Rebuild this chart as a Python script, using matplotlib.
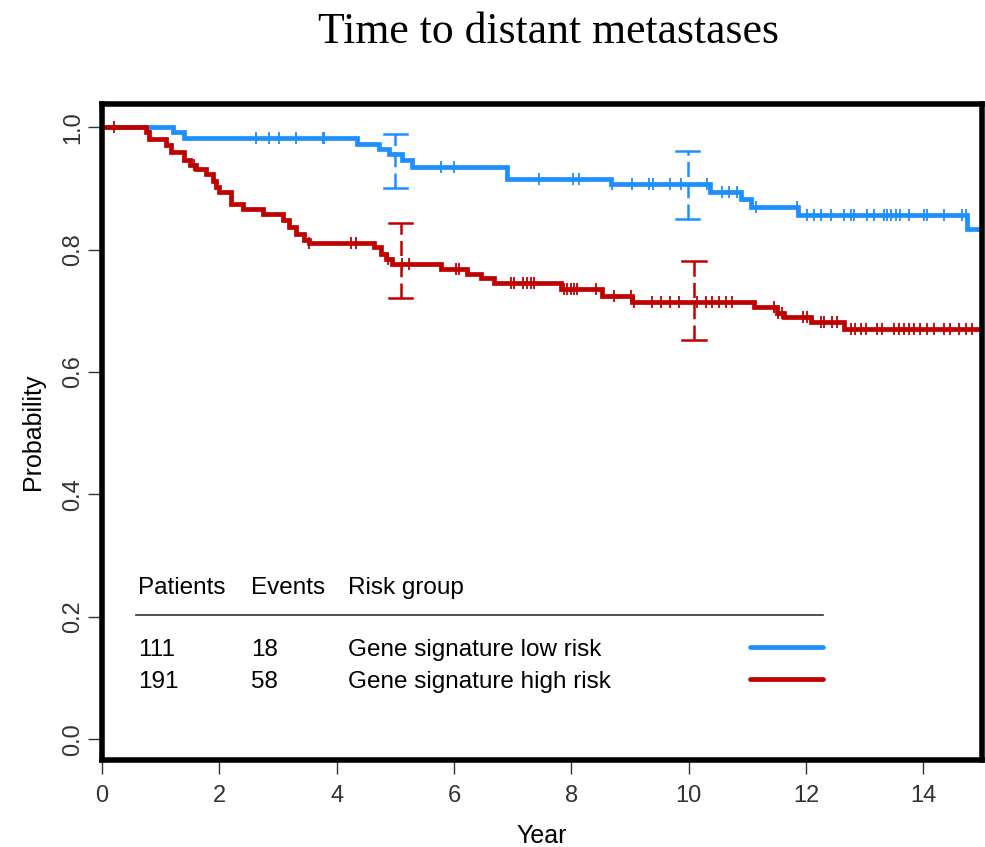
import numpy as np
import matplotlib
matplotlib.use("Agg")
import matplotlib.pyplot as plt

plt.rcParams['font.family'] = ['Liberation Sans', 'DejaVu Sans']

# Kaplan-Meier steps (time of step, survival after step)
low_t = [0.0, 1.21, 1.40, 4.35, 4.72, 4.89, 5.12, 5.29, 6.91, 8.67, 10.37, 10.89, 11.06, 11.87, 14.75]
low_s = [1.0, 0.992, 0.982, 0.973, 0.965, 0.957, 0.946, 0.935, 0.916, 0.907, 0.894, 0.882, 0.870, 0.856, 0.834]

high_t = [0.0, 0.75, 0.80, 1.09, 1.18, 1.40, 1.50, 1.60, 1.77, 1.89, 1.95, 2.0, 2.2, 2.4, 2.74,
          3.08, 3.19, 3.30, 3.45, 3.53, 4.64, 4.75, 4.84, 4.95, 5.78, 6.23, 6.46, 6.68,
          7.82, 8.53, 9.04, 11.11, 11.51, 11.62, 12.08, 12.64]
high_s = [1.0, 0.992, 0.981, 0.971, 0.960, 0.946, 0.938, 0.932, 0.924, 0.913, 0.902, 0.894, 0.875, 0.867, 0.859,
          0.848, 0.837, 0.826, 0.815, 0.811, 0.804, 0.793, 0.785, 0.777, 0.769, 0.761, 0.753, 0.745,
          0.736, 0.725, 0.715, 0.706, 0.696, 0.690, 0.682, 0.671]

# censoring times
low_cens = [2.62, 2.85, 3.01, 3.30, 3.76, 3.79, 5.78, 6.0, 7.45, 8.02, 8.13, 8.70, 9.04, 9.32, 9.40,
            9.69, 9.87, 10.32, 10.57, 10.69, 10.83, 11.14, 11.85, 12.02, 12.14, 12.25, 12.42,
            12.65, 12.76, 12.82, 13.04, 13.16, 13.33, 13.38, 13.44, 13.53, 13.61, 13.75,
            14.01, 14.06, 14.35, 14.66, 14.72]
high_cens = [0.21, 1.57, 3.53, 4.24, 4.33, 4.87, 5.12, 5.24, 6.03, 6.09, 6.97, 7.02, 7.17, 7.25, 7.31, 7.36,
             7.87, 7.93, 7.99, 8.04, 8.10, 8.42, 8.73, 9.01, 9.07, 9.38, 9.52, 9.69, 9.83,
             10.15, 10.29, 10.40, 10.52, 10.63, 10.74, 11.45, 11.53, 11.59, 11.94, 12.02,
             12.25, 12.31, 12.45, 12.53, 12.76, 12.84, 12.93, 13.02, 13.21, 13.30,
             13.50, 13.59, 13.67, 13.76, 13.84, 13.95, 14.06, 14.18, 14.35, 14.46, 14.61, 14.72, 14.83]

# confidence intervals at 5 and 10 years
low_ci_x = [5.0, 9.98]
low_ci_lo = [0.900, 0.850]
low_ci_hi = [0.989, 0.962]
high_ci_x = [5.09, 10.09]
high_ci_lo = [0.721, 0.652]
high_ci_hi = [0.843, 0.782]

patients = ["111", "191"]
events = ["18", "58"]
groups = ["Gene signature low risk", "Gene signature high risk"]

blue = "#1E8FFF"
red = "#C00000"


def surv_at(t, times, surv):
    idx = np.searchsorted(times, t, side='right') - 1
    return np.asarray(surv)[idx]


fig = plt.figure(figsize=(9.85, 8.47), dpi=100)
ax = fig.add_axes([0.1035, 0.1027, 0.8935, 0.7745])

for times, surv, cens, col in [(low_t, low_s, low_cens, blue), (high_t, high_s, high_cens, red)]:
    ax.step(times + [15.5], surv + [surv[-1]], where='post', color=col, lw=3.4, solid_joinstyle='miter')
    ax.plot(cens, surv_at(cens, times, surv), ls='none', marker='|', ms=9, mew=1.3, color=col)

for xs, lo, hi, col in [(low_ci_x, low_ci_lo, low_ci_hi, blue), (high_ci_x, high_ci_lo, high_ci_hi, red)]:
    for x, l, h in zip(xs, lo, hi):
        ax.plot([x, x], [l, h], color=col, lw=1.8, ls=(0, (6, 2.5)))
        ax.plot([x - 0.2, x + 0.2], [h, h], color=col, lw=1.8)
        ax.plot([x - 0.2, x + 0.2], [l, l], color=col, lw=1.8)

ax.set_xlim(0, 15)
ax.set_ylim(-0.034, 1.038)
ax.set_xticks(range(0, 15, 2))
ax.set_yticks([0.0, 0.2, 0.4, 0.6, 0.8, 1.0])
ax.set_yticklabels(["0.0", "0.2", "0.4", "0.6", "0.8", "1.0"], rotation=90, va='center')
ax.tick_params(labelsize=17, length=10, width=1, color='#333333', labelcolor='#333333')
ax.tick_params(axis='x', pad=8)
ax.tick_params(axis='y', pad=3)
for sp in ax.spines.values():
    sp.set_linewidth(4)
ax.set_xlabel("Year", fontsize=18, labelpad=12)
ax.set_ylabel("Probability", fontsize=18, labelpad=12)

# risk table legend
col_x = [0.62, 2.54, 4.2]
fs = 17.5
ax.text(col_x[0], 0.247, "Patients", fontsize=fs, va='center')
ax.text(col_x[1], 0.247, "Events", fontsize=fs, va='center')
ax.text(col_x[2], 0.247, "Risk group", fontsize=fs, va='center')
ax.plot([0.58, 12.29], [0.203, 0.203], color='#333333', lw=1.2)
for i, (p, e, g, col) in enumerate(zip(patients, events, groups, [blue, red])):
    y = 0.145 - i * 0.052
    ax.text(col_x[0], y, p, fontsize=fs, va='center')
    ax.text(col_x[1], y, e, fontsize=fs, va='center')
    ax.text(col_x[2], y, g, fontsize=fs, va='center')
    ax.plot([11.05, 12.29], [y + 0.005, y + 0.005], color=col, lw=3.4, solid_capstyle='round')

fig.text(0.557, 1 - 43 / 847, "Time to distant metastases", family='Liberation Serif', fontsize=31.5,
         ha='center', va='baseline')

fig.savefig("out.png", dpi=100)
